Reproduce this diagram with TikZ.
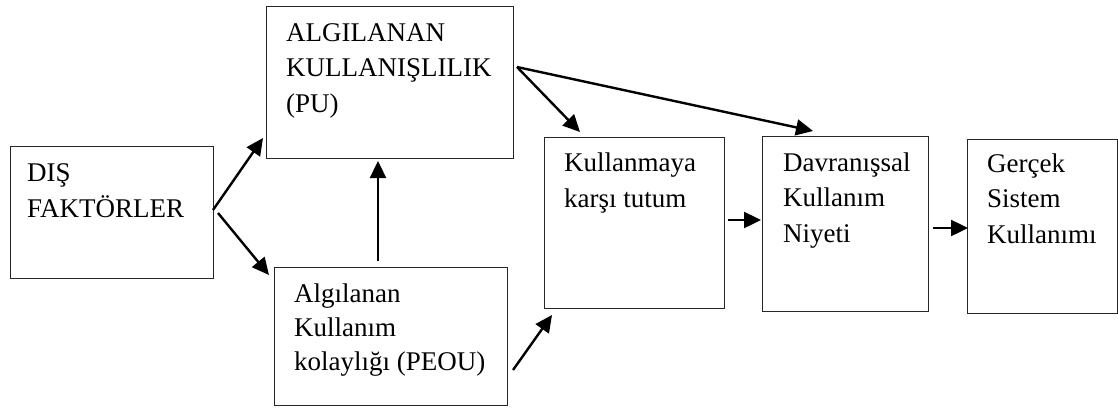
\documentclass[tikz,border=0pt]{standalone}
\usepackage{fontspec}
\setmainfont{Liberation Serif}
\usetikzlibrary{arrows.meta}
\begin{document}
\begin{tikzpicture}[x=1pt,y=-1pt,
  boxshape/.style={draw=black!85,line width=1.1pt},
  lbl/.style={anchor=base west,inner sep=0pt,align=left,font=\fontsize{27}{35.5}\selectfont},
  arr/.style={line width=2.4pt,-{Triangle[length=17pt,width=16pt]}}]
\useasboundingbox (0,0) rectangle (1118,408);
% boxes
\node[boxshape,inner sep=0pt,anchor=north west,minimum width=203pt,minimum height=132pt] (dis) at (10,146) {};
\node[boxshape,inner sep=0pt,anchor=north west,minimum width=247pt,minimum height=152pt] (pu) at (266,6) {};
\node[boxshape,inner sep=0pt,anchor=north west,minimum width=233pt,minimum height=138pt] (peou) at (274,267) {};
\node[boxshape,inner sep=0pt,anchor=north west,minimum width=180pt,minimum height=171pt] (tut) at (544,137) {};
\node[boxshape,inner sep=0pt,anchor=north west,minimum width=166pt,minimum height=175pt] (niy) at (762,136) {};
\node[boxshape,inner sep=0pt,anchor=north west,minimum width=150pt,minimum height=174pt] (ger) at (967,139) {};
% texts (anchored at the baseline of the last line)
\node[lbl] (disT) at (27,217) {DIŞ\\FAKTÖRLER};
\node[lbl] (puT) at (286,112) {ALGILANAN\\KULLANIŞLILIK\\(PU)};
\node[lbl,font=\fontsize{27}{34}\selectfont] (peouT) at (294,370) {Algılanan\\Kullanım\\kolaylığı (PEOU)};
\node[lbl] (tutT) at (564,207) {Kullanmaya\\karşı tutum};
\node[lbl] (niyT) at (783,242) {Davranışsal\\Kullanım\\Niyeti};
\node[lbl] (gerT) at (987,243) {Gerçek\\Sistem\\Kullanımı};
% connector ends
\coordinate (d1) at (213,210);
\coordinate (d2) at (218,213);
\coordinate (pu1) at (263,138);
\coordinate (pe1) at (269,275);
\coordinate (pe2) at (378,261);
\coordinate (pu2) at (378,161);
\coordinate (pu3) at (517,67);
\coordinate (tu1) at (580,132);
\coordinate (ni1) at (813,131);
\coordinate (pe3) at (513,370);
\coordinate (tu2) at (552,315);
\coordinate (tu3) at (728,220);
\coordinate (ni2) at (761,220);
\coordinate (ni3) at (933,228);
\coordinate (ge1) at (968,228);
% connectors
\draw[arr] (d1) -- (pu1);
\draw[arr] (d2) -- (pe1);
\draw[arr] (pe2) -- (pu2);
\draw[arr] (pu3) -- (tu1);
\draw[arr] (pu3) -- (ni1);
\draw[arr] (pe3) -- (tu2);
\draw[arr] (tu3) -- (ni2);
\draw[arr] (ni3) -- (ge1);
\end{tikzpicture}
\end{document}
